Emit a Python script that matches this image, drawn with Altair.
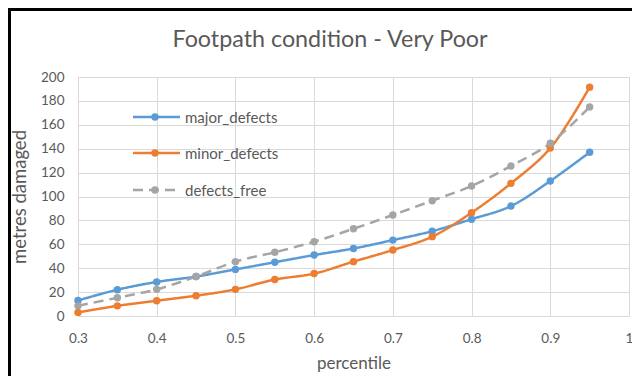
import altair as alt
import pandas as pd

# ---- data ----
percentile = [0.3, 0.35, 0.4, 0.45, 0.5, 0.55, 0.6, 0.65, 0.7, 0.75, 0.8, 0.85, 0.9, 0.95]
major_defects = [13, 22, 28.5, 33, 39, 45, 51, 56.5, 63.5, 71, 81, 92, 113, 137]
minor_defects = [3, 8.5, 12.8, 17, 22.3, 30.5, 35.5, 45.5, 55.2, 66.4, 86.5, 111, 140.5, 191.5]
defects_free = [8.5, 15.3, 22.3, 33, 45.5, 53.3, 62.2, 73, 84.5, 96.5, 108.8, 125.5, 144.5, 175]

series_names = ["major_defects", "minor_defects", "defects_free"]
series_colors = ["#5B9BD5", "#ED7D31", "#A5A5A5"]
series_dash = [[1, 0], [1, 0], [10, 6]]

x_ticks = [0.3, 0.4, 0.5, 0.6, 0.7, 0.8, 0.9, 1.0]
y_ticks = [0, 20, 40, 60, 80, 100, 120, 140, 160, 180, 200]

title_text = "Footpath condition - Very Poor"
x_title = "percentile"
y_title = "metres damaged"

# ---- build table ----
rows = []
for name, vals in zip(series_names, [major_defects, minor_defects, defects_free]):
    for p, v in zip(percentile, vals):
        rows.append({"percentile": p, "value": v, "series": name})
df = pd.DataFrame(rows)

FONT = "Lato"
TXT = "#595959"
GRID = "#D9D9D9"

x_enc = alt.X(
    "percentile:Q",
    scale=alt.Scale(domain=[0.3, 1.0], nice=False, zero=False),
    axis=alt.Axis(
        values=x_ticks, format="~g", title=x_title, grid=True, gridColor=GRID,
        ticks=False, domain=True, domainColor=GRID, labelColor=TXT, labelFontSize=13.5,
        labelFont=FONT, titleFont=FONT, titleFontSize=17, titleColor=TXT,
        titleFontWeight="normal", labelPadding=15, titlePadding=11,
        labelFlush=False, labelOverlap=False,
    ),
)
y_enc = alt.Y(
    "value:Q",
    scale=alt.Scale(domain=[0, 200], nice=False),
    axis=alt.Axis(
        values=y_ticks, tickCount=11, title=y_title, grid=True, gridColor=GRID, ticks=False,
        domain=False, labelColor=TXT, labelFontSize=13.5, labelFont=FONT,
        titleFont=FONT, titleFontSize=18.5, titleColor=TXT, titleFontWeight="normal",
        labelPadding=14, titlePadding=11, labelOverlap=False, labelFlush=False,
    ),
)
color_enc = alt.Color("series:N", scale=alt.Scale(domain=series_names, range=series_colors), legend=None)
dash_enc = alt.StrokeDash("series:N", scale=alt.Scale(domain=series_names, range=series_dash), legend=None)
order_sort = alt.Order("percentile:Q")

base = alt.Chart(df)
lines = base.mark_line(strokeWidth=2.5, interpolate="catmull-rom").encode(
    x=x_enc, y=y_enc, color=color_enc, strokeDash=dash_enc, detail="series:N", order=order_sort
)
points = base.mark_point(filled=True, size=55, opacity=1).encode(
    x=x_enc, y=y_enc, color=color_enc
)

one = pd.DataFrame({"a": [0]})
layers = [lines, points]

# legend drawn inside the plot
leg_y = [40, 76, 113]
for name, col, dash, ly in zip(series_names, series_colors, series_dash, leg_y):
    layers.append(
        alt.Chart(one).mark_rule(color=col, strokeWidth=2.5, strokeDash=dash).encode(
            x=alt.value(55), x2=alt.value(102), y=alt.value(ly)
        )
    )
    layers.append(
        alt.Chart(one).mark_point(filled=True, size=55, color=col, opacity=1).encode(
            x=alt.value(77), y=alt.value(ly)
        )
    )
    layers.append(
        alt.Chart(one).mark_text(align="left", baseline="middle", font=FONT, fontSize=15, color=TXT, text=name).encode(
            x=alt.value(107), y=alt.value(ly + 1)
        )
    )

# title
layers.append(
    alt.Chart(one).mark_text(align="center", baseline="middle", font=FONT, fontSize=23.3, color=TXT, text=title_text).encode(
        x=alt.value(252), y=alt.value(-37)
    )
)
# black frame (top and left)
layers.append(
    alt.Chart(one).mark_rule(color="black", strokeWidth=3).encode(
        x=alt.value(-68.5), y=alt.value(-69), y2=alt.value(400)
    )
)
layers.append(
    alt.Chart(one).mark_rule(color="black", strokeWidth=3).encode(
        x=alt.value(-70), x2=alt.value(700), y=alt.value(-67.5)
    )
)

chart = alt.layer(*layers).properties(
    width=551, height=239,
    autosize=alt.AutoSizeParams(type="none"),
    padding={"left": 70, "top": 69, "right": 3, "bottom": 60},
    background="white",
).configure_view(stroke=GRID, strokeWidth=1)

chart.save("out.html", embed_options={"renderer": "svg", "actions": False})
